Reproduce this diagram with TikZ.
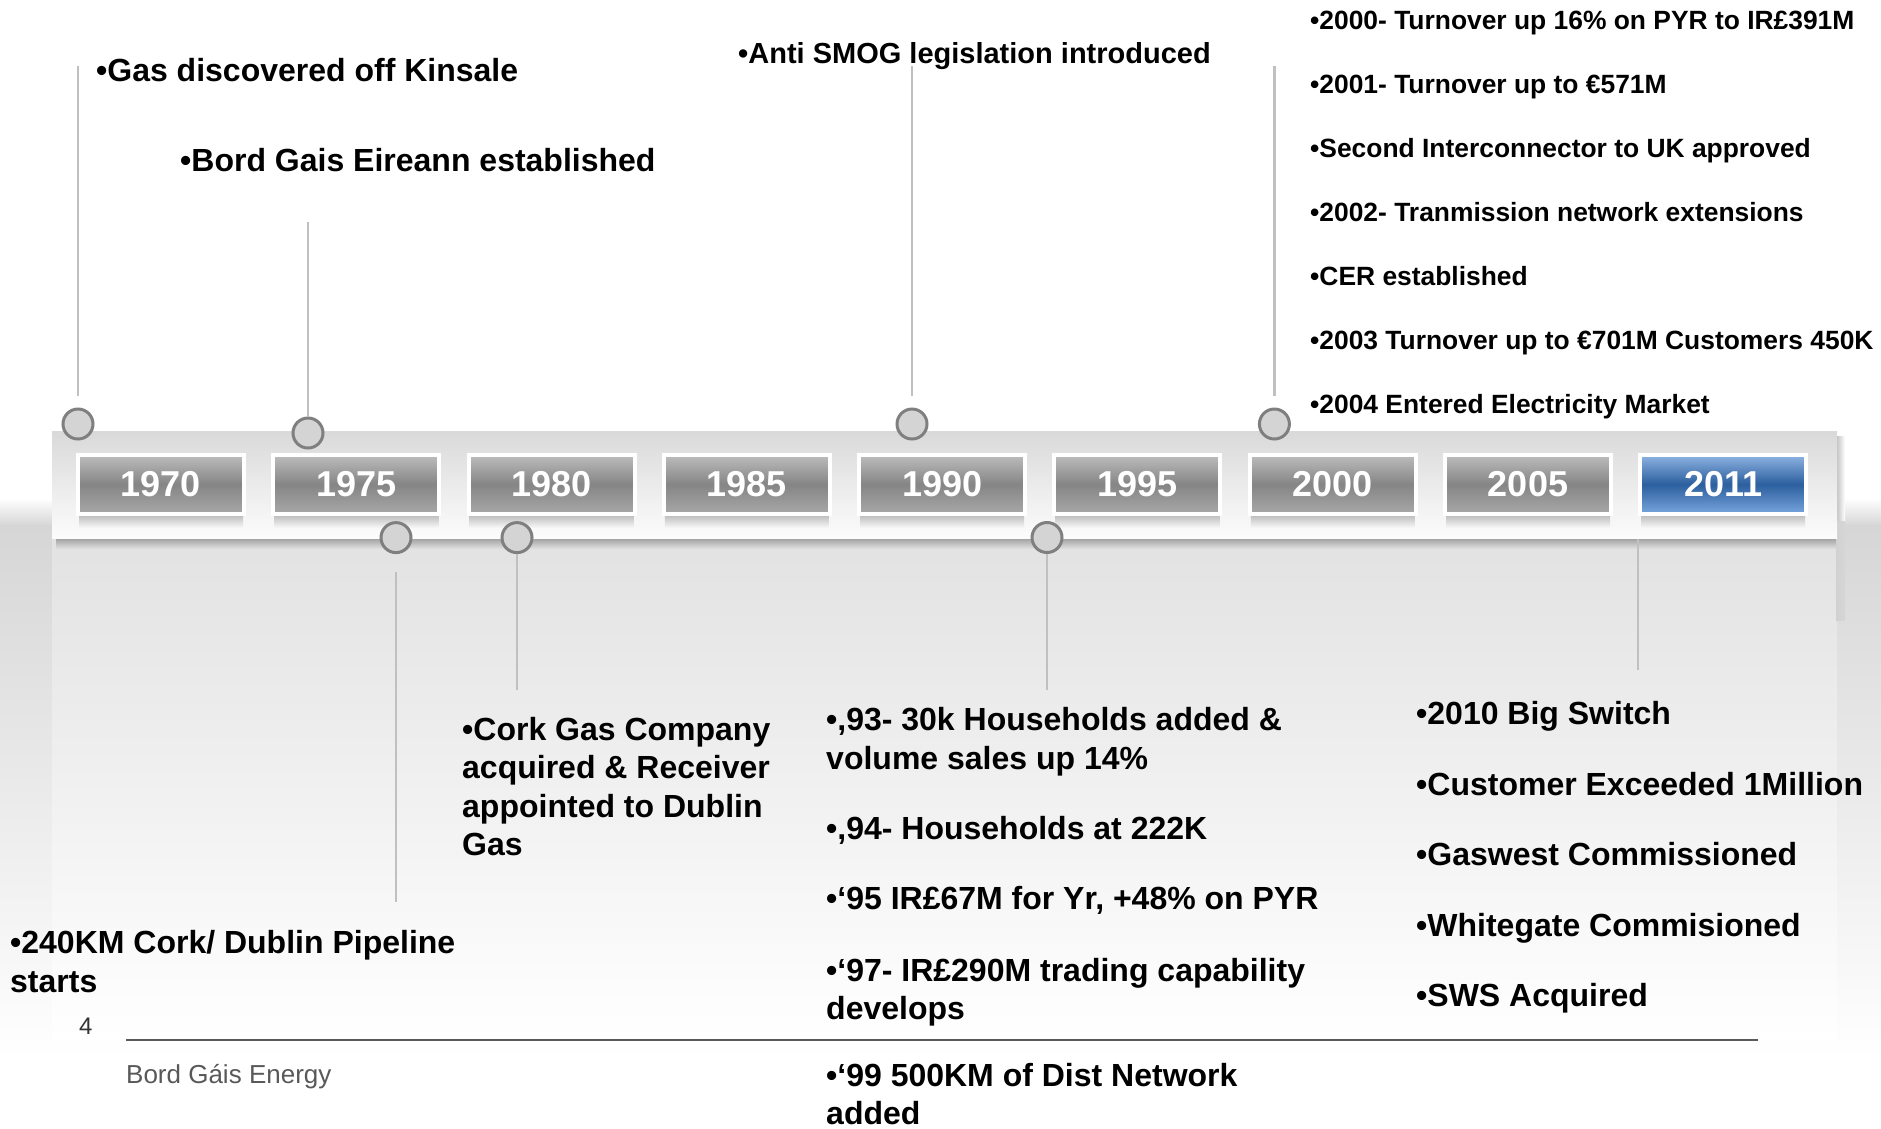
\documentclass[tikz,border=0pt]{standalone}
\usepackage{fontspec}
\setmainfont{Liberation Sans}
\definecolor{boxtop}{HTML}{BDBDBD}
\definecolor{boxmid}{HTML}{858585}
\definecolor{boxbot}{HTML}{A8A8A8}
\definecolor{bluetop}{HTML}{8FB4E3}
\definecolor{bluemid}{HTML}{2C5F9E}
\definecolor{bluebot}{HTML}{78A5DD}
\definecolor{circgray}{HTML}{7F7F7F}
\definecolor{circfill}{HTML}{D4D4D4}
\definecolor{stemgray}{HTML}{C0C0C0}
\definecolor{panetop}{HTML}{D9D9D9}
\definecolor{panebot}{HTML}{FCFCFC}
\definecolor{bandgray}{HTML}{D6D6D6}
\definecolor{undergray}{HTML}{E2E2E2}
\definecolor{footgray}{HTML}{595959}
\begin{document}
\begin{tikzpicture}[x=1pt,y=-1pt,
  yearbox/.style={draw=white, line width=4pt, minimum width=166pt, minimum height=59pt,
    inner sep=0pt, text=white, font=\fontsize{36}{36}\selectfont\bfseries,
    top color=boxtop, bottom color=boxbot, middle color=boxmid},
  bluebox/.style={yearbox, top color=bluetop, bottom color=bluebot, middle color=bluemid},
  dot/.style={circle, draw=circgray, line width=3pt, fill=circfill, minimum size=30pt, inner sep=0pt},
  stem/.style={draw=stemgray, line width=2.5pt},
  evtext/.style={anchor=north west, inner sep=0pt, align=left, font=\fontsize{32}{38.4}\selectfont\bfseries},
  smalltext/.style={evtext, font=\fontsize{26.4}{64}\selectfont\bfseries},
  boxshadow/.style={top color=black!28, bottom color=panebot!97!black}
]
\useasboundingbox (0,0) rectangle (1881,1128);
\fill[white] (0,0) rectangle (1881,1128);
% background band
\shade[top color=white, bottom color=bandgray] (0,498) rectangle (1881,526);
\shade[top color=bandgray, bottom color=white] (0,525.5) rectangle (1881,1060);
% region under the panel
\shade[top color=undergray, bottom color=white] (52,538) rectangle (1837,1040);
% panel shadows
\shade[top color=black!40, bottom color=undergray] (56,537) rectangle (1840,549);
\shade[left color=black!25, right color=white] (1836,436) rectangle (1845,522);
\shade[left color=black!18, right color=bandgray] (1836,521) rectangle (1845,620);
% panel
\shade[top color=panetop, bottom color=panebot] (52,431) rectangle (1837,538);
% year boxes
\foreach \yr [count=\i from 0] in {1970,1975,1980,1985,1990,1995,2000,2005} {
  \shade[boxshadow] (79+195.3*\i,514) rectangle (243+195.3*\i,527);
  \node[yearbox] (y\yr) at (160.9+195.3*\i,484.3) {\yr};
}
\shade[boxshadow] (1641,514) rectangle (1805,527);
\node[bluebox] (y2011) at (1723.3,484.3) {2011};
% circles
\node[dot] (c1) at (78,424) {};
\node[dot] (c2) at (308,433) {};
\node[dot] (c3) at (396,537.6) {};
\node[dot] (c4) at (517,537.6) {};
\node[dot] (c5) at (912,424) {};
\node[dot] (c6) at (1047,537.5) {};
\node[dot] (c7) at (1274.4,424) {};
% stems
\coordinate (s1) at (78,66);
\coordinate (s2) at (308,222);
\coordinate (s3) at (396,902);
\coordinate (s4) at (517,690);
\coordinate (s5) at (912,66);
\coordinate (s6) at (1047,690);
\coordinate (s7) at (1274.4,66);
\coordinate (s8a) at (1638,539);
\coordinate (s8b) at (1638,670);
\draw[stem] (s1) -- ([yshift=12pt]c1.north);
\draw[stem] (s2) -- (c2.north);
\draw[stem] ([yshift=-18pt]c3.south) -- (s3);
\draw[stem] (c4.south) -- (s4);
\draw[stem] (s5) -- ([yshift=12pt]c5.north);
\draw[stem] (c6.south) -- (s6);
\draw[stem] (s7) -- ([yshift=12pt]c7.north);
\draw[stem] (s8a) -- (s8b);
% event texts
\node[evtext] (t1) at (96,58) {•Gas discovered off Kinsale};
\node[evtext] (t2) at (180,148) {•Bord Gais Eireann established};
\node[evtext, font=\fontsize{29}{34}\selectfont\bfseries] (t3) at (738,42.4) {•Anti SMOG legislation introduced};
\node[smalltext] (t4) at (1310,11) {•2000- Turnover up 16\% on PYR to IR£391M\\•2001- Turnover up to €571M\\•Second Interconnector to UK approved\\•2002- Tranmission network extensions\\•CER established\\•2003 Turnover up to €701M Customers 450K\\•2004 Entered Electricity Market};
\node[evtext] (t5) at (10,930.5) {•240KM Cork/ Dublin Pipeline\\starts};
\node[evtext] (t6) at (462,717) {•Cork Gas Company\\acquired \& Receiver\\appointed to Dublin\\Gas};
\node[evtext] (t7) at (826,707.3) {•,93- 30k Households added \&\\volume sales up 14\%};
\node[evtext] (t8) at (826,816.5) {•,94- Households at 222K};
\node[evtext] (t9) at (826,886) {•‘95 IR£67M for Yr, +48\% on PYR};
\node[evtext] (t10) at (826,958) {•‘97- IR£290M trading capability\\develops};
\node[evtext] (t11) at (826,1063) {•‘99 500KM of Dist Network\\added};
\node[evtext, font=\fontsize{32}{70.5}\selectfont\bfseries] (t12) at (1416,701.3) {•2010 Big Switch\\•Customer Exceeded 1Million\\•Gaswest Commissioned\\•Whitegate Commisioned\\•SWS Acquired};
% footer
\coordinate (f1) at (126,1040);
\coordinate (f2) at (1758,1040);
\draw[draw=footgray, line width=2.5pt] (f1) -- (f2);
\node[anchor=base west, inner sep=0pt, text=black!80, font=\fontsize{24}{24}\selectfont] (pg) at (79,1034.5) {4};
\node[anchor=base west, inner sep=0pt, text=footgray, font=\fontsize{26}{26}\selectfont] (brand) at (126,1083) {Bord Gáis Energy};
\end{tikzpicture}
\end{document}
